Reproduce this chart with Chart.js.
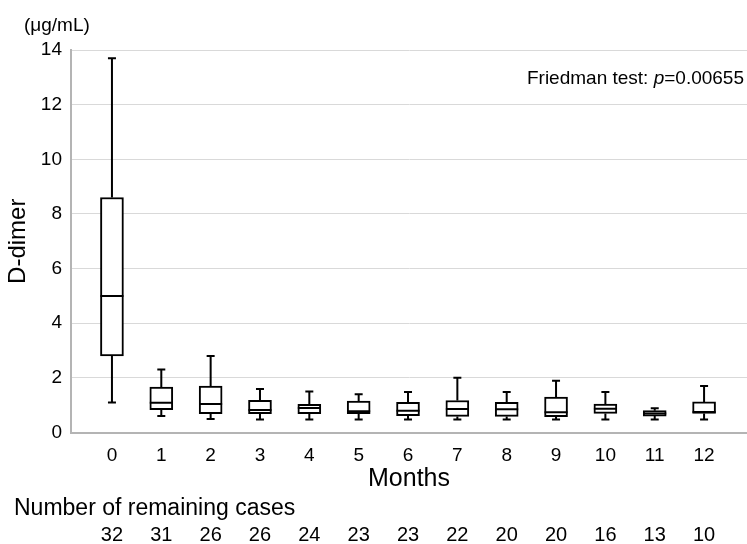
<!DOCTYPE html>
<html>
<head>
<meta charset="utf-8">
<script src="https://cdn.jsdelivr.net/npm/chart.js@4.4.1/dist/chart.umd.min.js"></script>
<style>
  html, body { margin: 0; padding: 0; background: #fff; }
  #wrap { width: 747px; height: 544px; }
</style>
</head>
<body>
<div id="wrap"><canvas id="chart" width="747" height="544"></canvas></div>
<script>
// D-dimer by month, box plot values
const months = ['0', '1', '2', '3', '4', '5', '6', '7', '8', '9', '10', '11', '12'];
const whiskerLow  = [1.1, 0.60, 0.49, 0.48, 0.48, 0.48, 0.48, 0.48, 0.48, 0.48, 0.48, 0.48, 0.48];
const q1          = [2.8, 0.84, 0.69, 0.69, 0.69, 0.69, 0.62, 0.59, 0.59, 0.58, 0.70, 0.60, 0.70];
const median      = [5.0, 1.09, 1.04, 0.82, 0.90, 0.78, 0.80, 0.86, 0.85, 0.74, 0.87, 0.70, 0.75];
const q3          = [8.6, 1.66, 1.70, 1.18, 1.03, 1.15, 1.10, 1.17, 1.10, 1.30, 1.04, 0.80, 1.12];
const whiskerHigh = [13.7, 2.31, 2.80, 1.59, 1.50, 1.40, 1.48, 2.00, 1.48, 1.89, 1.48, 0.89, 1.70];
const remainingCases = [32, 31, 26, 26, 24, 23, 23, 22, 20, 20, 16, 13, 10];

const FONT = '"Liberation Sans", Arial, sans-serif';

// whiskers, caps and median lines, placed with the chart's scales
const boxPlotPlugin = {
    id: 'boxPlot',
    afterDatasetsDraw: function(chart) {
        const ctx = chart.ctx;
        const x = chart.scales.x;
        const y = chart.scales.y;
        const bars = chart.getDatasetMeta(0).data;
        ctx.save();
        ctx.strokeStyle = '#000';
        ctx.lineWidth = 2;
        months.forEach(function(m, i) {
            const px = x.getPixelForValue(i);
            const half = bars[i].width / 2;
            const cap = 4;
            ctx.beginPath();
            ctx.moveTo(px, y.getPixelForValue(q3[i]));
            ctx.lineTo(px, y.getPixelForValue(whiskerHigh[i]));
            ctx.moveTo(px - cap, y.getPixelForValue(whiskerHigh[i]));
            ctx.lineTo(px + cap, y.getPixelForValue(whiskerHigh[i]));
            ctx.moveTo(px, y.getPixelForValue(q1[i]));
            ctx.lineTo(px, y.getPixelForValue(whiskerLow[i]));
            ctx.moveTo(px - cap, y.getPixelForValue(whiskerLow[i]));
            ctx.lineTo(px + cap, y.getPixelForValue(whiskerLow[i]));
            ctx.moveTo(px - half, y.getPixelForValue(median[i]));
            ctx.lineTo(px + half, y.getPixelForValue(median[i]));
            ctx.stroke();
        });
        ctx.restore();
    }
};

// unit label, test result and the case counts row
const annotationPlugin = {
    id: 'annotations',
    afterDraw: function(chart) {
        const ctx = chart.ctx;
        const x = chart.scales.x;
        ctx.save();
        ctx.fillStyle = '#000';
        ctx.textBaseline = 'middle';

        ctx.font = '19px ' + FONT;
        ctx.textAlign = 'left';
        ctx.fillText('(μg/mL)', 24, 26);

        // Friedman test: p=0.00655, right aligned
        const partA = 'Friedman test: ';
        const partB = 'p';
        const partC = '=0.00655';
        const normal = '19px ' + FONT;
        const italic = 'italic 19px ' + FONT;
        ctx.font = normal;
        const wA = ctx.measureText(partA).width;
        const wC = ctx.measureText(partC).width;
        ctx.font = italic;
        const wB = ctx.measureText(partB).width;
        let tx = 744 - (wA + wB + wC);
        ctx.font = normal;
        ctx.fillText(partA, tx, 79);
        tx += wA;
        ctx.font = italic;
        ctx.fillText(partB, tx, 79);
        tx += wB;
        ctx.font = normal;
        ctx.fillText(partC, tx, 79);

        ctx.font = '23px ' + FONT;
        ctx.fillText('Number of remaining cases', 14, 509);

        ctx.font = '20px ' + FONT;
        ctx.textAlign = 'center';
        remainingCases.forEach(function(n, i) {
            ctx.fillText(String(n), x.getPixelForValue(i), 535);
        });
        ctx.restore();
    }
};

const ctx = document.getElementById('chart').getContext('2d');
const chart = new Chart(ctx, {
    type: 'bar',
    data: {
        datasets: [{
            label: 'IQR',
            data: months.map(function(m, i) { return { x: i, y: [q1[i], q3[i]] }; }),
            backgroundColor: '#fff',
            borderColor: '#000',
            borderWidth: 2,
            borderSkipped: false,
            barThickness: 23
        }]
    },
    options: {
        responsive: false,
        animation: false,
        layout: {
            padding: { top: 50, right: 0, bottom: 49.5, left: 0 }
        },
        plugins: {
            legend: { display: false },
            tooltip: { enabled: false }
        },
        scales: {
            x: {
                type: 'linear',
                offset: false,
                min: -0.83,
                max: 12.87,
                afterBuildTicks: function(scale) {
                    scale.ticks = months.map(function(m, i) { return { value: i }; });
                },
                afterFit: function(scale) { scale.height = 62; },
                grid: { display: false, drawTicks: false },
                border: { display: true, color: '#b4b4b4', width: 2 },
                ticks: {
                    color: '#000',
                    font: { family: FONT, size: 19 },
                    padding: 12,
                    maxRotation: 0,
                    callback: function(value) { return months[value]; }
                },
                title: {
                    display: true,
                    text: 'Months',
                    color: '#000',
                    font: { family: FONT, size: 25 },
                    padding: { top: 0, bottom: 0 }
                }
            },
            y: {
                min: 0,
                max: 14,
                afterFit: function(scale) { scale.width = 71; },
                grid: { color: '#d9d9d9', lineWidth: 1, drawTicks: false },
                border: { display: true, color: '#b4b4b4', width: 2 },
                ticks: {
                    stepSize: 2,
                    color: '#000',
                    font: { family: FONT, size: 19 },
                    padding: 9
                },
                title: {
                    display: true,
                    text: 'D-dimer',
                    color: '#000',
                    font: { family: FONT, size: 24 },
                    padding: { top: 4, bottom: 0 }
                }
            }
        }
    },
    plugins: [boxPlotPlugin, annotationPlugin]
});
</script>
</body>
</html>
